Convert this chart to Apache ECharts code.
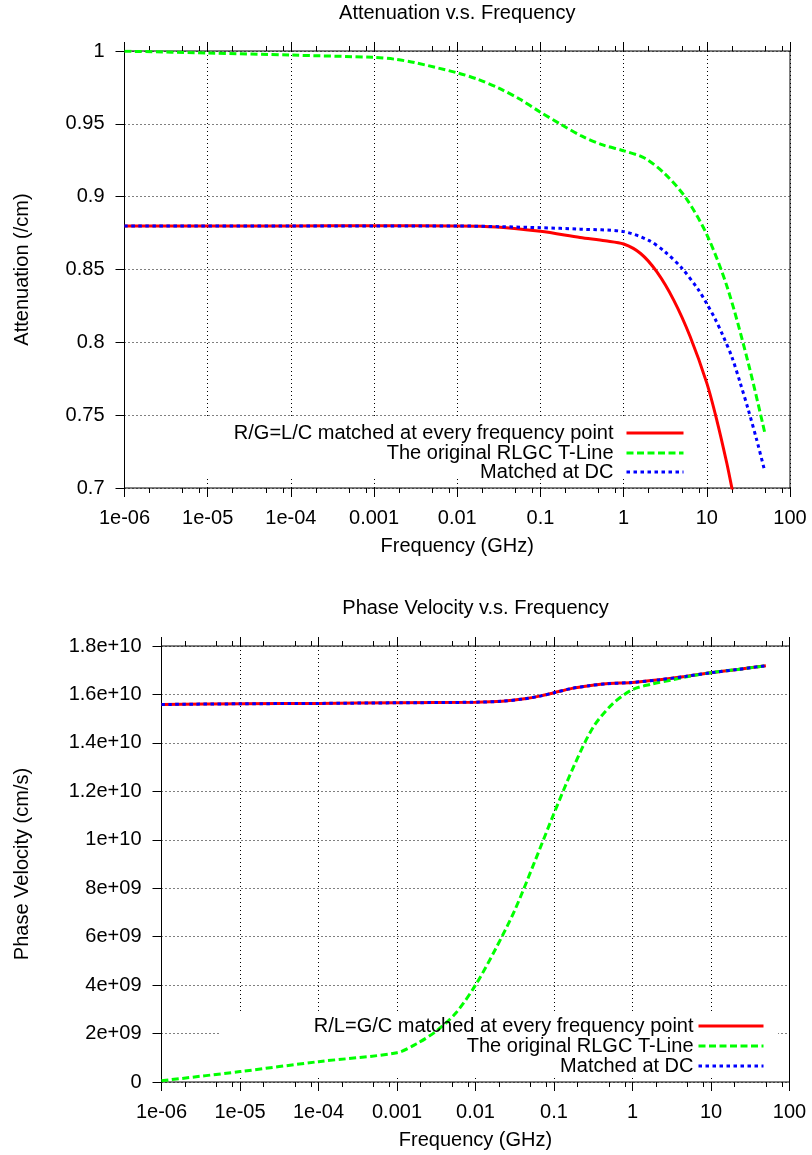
<!DOCTYPE html>
<html>
<head>
<meta charset="utf-8">
<script src="https://cdn.jsdelivr.net/npm/echarts@6/dist/echarts.min.js"></script>
<style>
html, body { margin: 0; padding: 0; background: #fff; }
#chart { width: 812px; height: 1155px; }
</style>
</head>
<body>
<div id="chart"></div>
<script>
// ---- axis ticks -------------------------------------------------------
const freqTicks = [1e-6, 1e-5, 1e-4, 1e-3, 1e-2, 1e-1, 1, 10, 100];
const freqTickLabels = ['1e-06', '1e-05', '1e-04', '0.001', '0.01', '0.1', '1', '10', '100'];
const freqMinorTicks = [
  2e-6, 5e-6, 8e-6, 2e-5, 5e-5, 8e-5, 2e-4, 5e-4, 8e-4, 2e-3, 5e-3, 8e-3,
  2e-2, 5e-2, 8e-2, 0.2, 0.5, 0.8, 2, 5, 8, 20, 50, 80
];
const velocityTickLabels = ['0', '2e+09', '4e+09', '6e+09', '8e+09', '1e+10',
  '1.2e+10', '1.4e+10', '1.6e+10', '1.8e+10'];

// ---- attenuation (/cm) vs frequency (GHz) ----------------------------
const attenMatchedFreq = [1e-6, 1e-5, 1e-4, 1e-3, 0.01, 0.03, 0.1, 0.3, 0.6, 1, 1.6, 2.5, 4, 6.3, 10, 13.2, 17.4, 20, 25];
const attenMatched     = [0.8798, 0.8799, 0.8799, 0.88, 0.8799, 0.8792, 0.8762, 0.872, 0.8697, 0.8675, 0.861, 0.8485, 0.829, 0.804, 0.772, 0.7465, 0.717, 0.700, 0.671];

const attenOriginalFreq = [1e-6, 1e-5, 1e-4, 1e-3, 0.0018, 0.0031, 0.01, 0.0178, 0.0316, 0.0562, 0.1, 0.178, 0.316, 0.562, 1, 1.78, 3.16, 5.62, 10, 17.8, 31.6, 50];
const attenOriginal     = [0.9999, 0.9986, 0.9972, 0.9956, 0.9943, 0.992, 0.985, 0.9805, 0.9745, 0.967, 0.958, 0.9495, 0.9415, 0.9355, 0.9315, 0.9265, 0.9155, 0.899, 0.874, 0.837, 0.7855, 0.7374];

const attenDCFreq = [1e-6, 1e-4, 0.01, 0.033, 0.1, 0.3, 1, 2, 3.16, 5, 7.94, 10, 12.6, 15.8, 20, 25.1, 31.6, 39.8, 50];
const attenDC     = [0.8798, 0.8799, 0.8799, 0.8794, 0.8787, 0.8777, 0.876, 0.870, 0.862, 0.851, 0.836, 0.8265, 0.816, 0.804, 0.790, 0.7725, 0.7535, 0.733, 0.711];

// ---- phase velocity (cm/s) vs frequency (GHz) -------------------------
const velMatchedFreq = [1e-6, 1e-5, 1e-4, 1e-3, 0.01, 0.022, 0.042, 0.068, 0.1, 0.17, 0.28, 0.46, 1, 2.2, 4.7, 10, 22, 50];
const velMatched     = [1.5586e10, 1.5614e10, 1.563e10, 1.5655e10, 1.568e10, 1.572e10, 1.582e10, 1.594e10, 1.607e10, 1.625e10, 1.636e10, 1.644e10, 1.6497e10, 1.6607e10, 1.6745e10, 1.6897e10, 1.7034e10, 1.7186e10];

const velOriginalFreq = [1e-6, 1e-5, 1e-4, 1e-3, 0.00178, 0.00316, 0.00562, 0.01, 0.0178, 0.0316, 0.0562, 0.1, 0.178, 0.316, 0.562, 1, 1.78, 3.16, 4.7, 10, 22, 50];
const velOriginal     = [0.05e9, 0.43e9, 0.84e9, 1.21e9, 1.58e9, 2.1e9, 2.85e9, 4.0e9, 5.46e9, 7.09e9, 9.06e9, 1.109e10, 1.302e10, 1.465e10, 1.562e10, 1.62e10, 1.643e10, 1.66e10, 1.672e10, 1.69e10, 1.7034e10, 1.7186e10];

const velDCFreq = [1e-6, 1e-5, 1e-4, 1e-3, 0.01, 0.022, 0.042, 0.068, 0.1, 0.17, 0.28, 0.46, 1, 2.2, 4.7, 10, 22, 50];
const velDC     = [1.5586e10, 1.5614e10, 1.563e10, 1.5655e10, 1.568e10, 1.572e10, 1.582e10, 1.594e10, 1.607e10, 1.625e10, 1.636e10, 1.644e10, 1.6497e10, 1.6607e10, 1.6745e10, 1.6897e10, 1.7034e10, 1.7186e10];

const topNames = ['R/G=L/C matched at every frequency point', 'The original RLGC T-Line', 'Matched at DC'];
const bottomNames = ['R/L=G/C matched at every frequency point', 'The original RLGC T-Line', 'Matched at DC'];

// ---- styling ----------------------------------------------------------
const FONT = '"Liberation Sans", Arial, Helvetica, sans-serif';
const FS = 20;
const txt = { color: '#000', fontFamily: FONT, fontSize: FS };
const gridDots = { show: true, lineStyle: { color: '#000', width: 1, type: [1, 3] } };
const RED = '#ff0000', GREEN = '#00ff00', BLUE = '#0000ff';

const pairs = (xs, ys) => xs.map((x, i) => [x, ys[i]]);
const freqLabel = v => freqTickLabels[Math.round(Math.log10(v)) + 6];

function freqAxes(gridIndex, title) {
  const base = { type: 'log', logBase: 10, min: 1e-6, max: 100, gridIndex,
    axisLine: { show: false }, splitLine: { show: false } };
  return [
    Object.assign({}, base, {
      position: 'bottom',
      axisTick: { show: true, length: 9, customValues: freqTicks, lineStyle: { color: '#000' } },
      axisLabel: Object.assign({ customValues: freqTicks, formatter: freqLabel, margin: 20 }, txt),
      splitLine: gridDots,
      name: 'Frequency (GHz)', nameLocation: 'middle', nameGap: 48, nameTextStyle: txt
    }),
    Object.assign({}, base, {
      position: 'top',
      axisTick: { show: true, length: 9, customValues: freqTicks, lineStyle: { color: '#000' } },
      axisLabel: { show: false },
      name: title, nameLocation: 'middle', nameGap: 28, nameTextStyle: txt
    }),
    Object.assign({}, base, {
      position: 'bottom',
      axisTick: { show: true, length: 5, customValues: freqMinorTicks, lineStyle: { color: '#000' } },
      axisLabel: { show: false }
    }),
    Object.assign({}, base, {
      position: 'top',
      axisTick: { show: true, length: 5, customValues: freqMinorTicks, lineStyle: { color: '#000' } },
      axisLabel: { show: false }
    })
  ];
}

function lineSeries(name, data, color, type, xAxisIndex, yAxisIndex) {
  return {
    type: 'line', name, data, xAxisIndex, yAxisIndex,
    showSymbol: false, symbol: 'none', smooth: 0.3, clip: true,
    lineStyle: { color, width: 3, type, cap: 'butt' },
    itemStyle: { color },
    emphasis: { disabled: true }, animation: false
  };
}

// one key row: text right-aligned, line sample to its right
function legendRow(name, right, top, itemWidth, gapPad) {
  return {
    data: [name], right, top, orient: 'vertical', align: 'right',
    itemWidth, itemHeight: 14, padding: 0, selectedMode: false,
    itemStyle: { opacity: 0 },
    lineStyle: { width: 3 },
    textStyle: Object.assign({ padding: [0, gapPad, 0, 0] }, txt)
  };
}

const option = {
  animation: false,
  backgroundColor: '#fff',
  grid: [
    { left: 124.5, top: 51, width: 665.5, height: 437, show: true, borderColor: '#000', borderWidth: 1 },
    { left: 161.5, top: 646, width: 628, height: 436, show: true, borderColor: '#000', borderWidth: 1 }
  ],
  xAxis: freqAxes(0, 'Attenuation v.s. Frequency').concat(freqAxes(1, 'Phase Velocity v.s. Frequency')),
  yAxis: [
    { type: 'value', gridIndex: 0, min: 0.7, max: 1, interval: 0.05,
      axisLine: { show: false },
      axisTick: { show: true, length: 9, lineStyle: { color: '#000' } },
      axisLabel: Object.assign({ margin: 20 }, txt),
      splitLine: gridDots,
      name: 'Attenuation (/cm)', nameLocation: 'middle', nameGap: 92, nameTextStyle: txt },
    { type: 'value', gridIndex: 1, min: 0, max: 1.8e10, interval: 2e9,
      axisLine: { show: false },
      axisTick: { show: true, length: 9, lineStyle: { color: '#000' } },
      axisLabel: Object.assign({ margin: 20, formatter: v => velocityTickLabels[Math.round(v / 2e9)] }, txt),
      splitLine: gridDots,
      name: 'Phase Velocity (cm/s)', nameLocation: 'middle', nameGap: 129, nameTextStyle: txt }
  ],
  legend: [
    legendRow(topNames[0], 127, 423, 57, 8),
    legendRow(topNames[1], 127, 443, 57, 8),
    legendRow(topNames[2], 127, 462, 57, 8),
    legendRow(bottomNames[0], 47, 1016, 65, 0),
    legendRow(bottomNames[1], 47, 1036, 65, 0),
    legendRow(bottomNames[2], 47, 1056, 65, 0)
  ],
  // white key boxes hide the dotted grid behind the legends
  graphic: [
    { type: 'rect', z: 1, silent: true, shape: { x: 138, y: 418, width: 560, height: 60 }, style: { fill: '#fff' } },
    { type: 'rect', z: 1, silent: true, shape: { x: 219, y: 1013, width: 559, height: 65 }, style: { fill: '#fff' } }
  ],
  series: [
    lineSeries(topNames[0], pairs(attenMatchedFreq, attenMatched), RED, 'solid', 0, 0),
    lineSeries(topNames[1], pairs(attenOriginalFreq, attenOriginal), GREEN, [7, 3.5], 0, 0),
    lineSeries(topNames[2], pairs(attenDCFreq, attenDC), BLUE, [3.5, 3.5], 0, 0),
    lineSeries(bottomNames[0], pairs(velMatchedFreq, velMatched), RED, 'solid', 4, 1),
    lineSeries(bottomNames[1], pairs(velOriginalFreq, velOriginal), GREEN, [7, 3.5], 4, 1),
    lineSeries(bottomNames[2], pairs(velDCFreq, velDC), BLUE, [3.5, 3.5], 4, 1)
  ]
};

const chart = echarts.init(document.getElementById('chart'), null, { renderer: 'canvas' });
chart.setOption(option);
</script>
</body>
</html>
